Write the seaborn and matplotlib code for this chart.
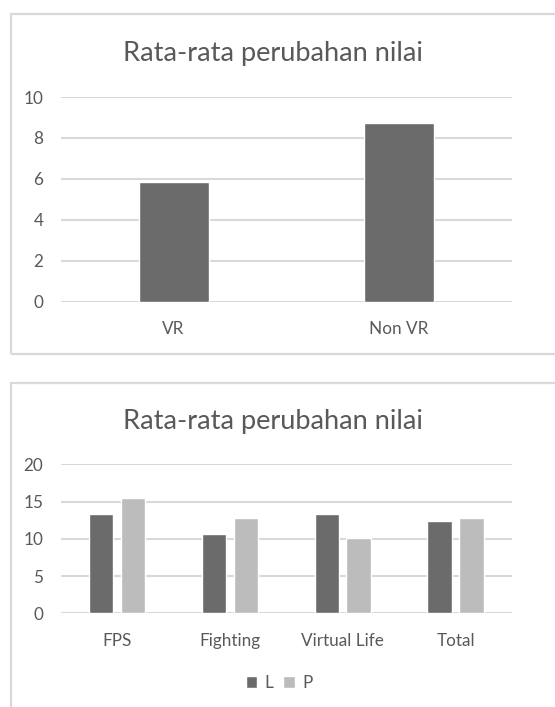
import matplotlib
matplotlib.use("Agg")
import matplotlib.pyplot as plt
import seaborn as sns
import pandas as pd
from matplotlib.patches import Rectangle

# ---- data ----
title_text = "Rata-rata perubahan nilai"
cats1 = ["VR", "Non VR"]
vals1 = [5.83, 8.73]

cats2 = ["FPS", "Fighting", "Virtual Life", "Total"]
vals_L = [13.33, 10.69, 13.33, 12.35]
vals_P = [15.48, 12.79, 10.11, 12.79]
series = ["L", "P"]

dark = "#6b6b6b"
light = "#bcbcbc"
text_col = "#595959"
grid_col = "#d9d9d9"

sns.set_theme(style="white")
plt.rcParams['font.family'] = ['Lato', 'DejaVu Sans']

W, H = 555, 707
fig = plt.figure(figsize=(W / 100, H / 100), dpi=100)

def ax_rect(x0, y0, x1, y1):
    return [x0 / W, 1 - y1 / H, (x1 - x0) / W, (y1 - y0) / H]

# borders
for (x0, y0, x1, y1) in [(10.7, 14, 570, 353.5), (10.7, 383, 570, 730)]:
    fig.patches.append(Rectangle((x0 / W, 1 - y1 / H), (x1 - x0) / W, (y1 - y0) / H,
                                 transform=fig.transFigure, fill=False,
                                 edgecolor=grid_col, linewidth=1.6))

def style_axis(ax, ymax, step):
    ax.set_ylim(0, ymax)
    ax.set_yticks(range(0, ymax + 1, step))
    ax.yaxis.grid(True, color=grid_col, linewidth=1.5)
    ax.set_axisbelow(True)
    for s in ax.spines.values():
        s.set_visible(False)
    ax.tick_params(axis='both', length=0, labelsize=12.3, colors=text_col)
    ax.tick_params(axis='y', pad=12.5)
    ax.tick_params(axis='x', pad=14)
    ax.set_xlabel("")
    ax.set_ylabel("")

# ---- chart 1 ----
ax1 = fig.add_axes(ax_rect(60.7, 97, 512, 301.7))
df1 = pd.DataFrame({"cat": cats1, "val": vals1})
sns.barplot(data=df1, x="cat", y="val", color=dark, saturation=1, width=0.31, ax=ax1)
style_axis(ax1, 10, 2)
ax1.set_xlim(-0.5, 1.5)
fig.text(273 / W, 1 - 53 / H, title_text, ha="center", va="center",
         fontsize=19.6, color=text_col)

# ---- chart 2 ----
ax2 = fig.add_axes(ax_rect(60.7, 464.3, 512, 613.3))
df2 = pd.DataFrame({
    "cat": cats2 * 2,
    "series": [series[0]] * len(cats2) + [series[1]] * len(cats2),
    "val": vals_L + vals_P,
})
sns.barplot(data=df2, x="cat", y="val", hue="series", palette=[dark, light],
            saturation=1, width=0.564, gap=0.23, ax=ax2)
style_axis(ax2, 20, 5)
ax2.set_xlim(-0.5, 3.5)
leg = ax2.legend(loc="center", bbox_to_anchor=(279 / W, 1 - 683 / H),
                 bbox_transform=fig.transFigure, ncol=2, frameon=False,
                 fontsize=12.3, handlelength=0.65, handleheight=0.65,
                 handletextpad=0.45, columnspacing=0.6, borderaxespad=0)
for t in leg.get_texts():
    t.set_color(text_col)
fig.text(273 / W, 1 - 422 / H, title_text, ha="center", va="center",
         fontsize=19.6, color=text_col)

fig.savefig("out.png", dpi=100, facecolor="white")
